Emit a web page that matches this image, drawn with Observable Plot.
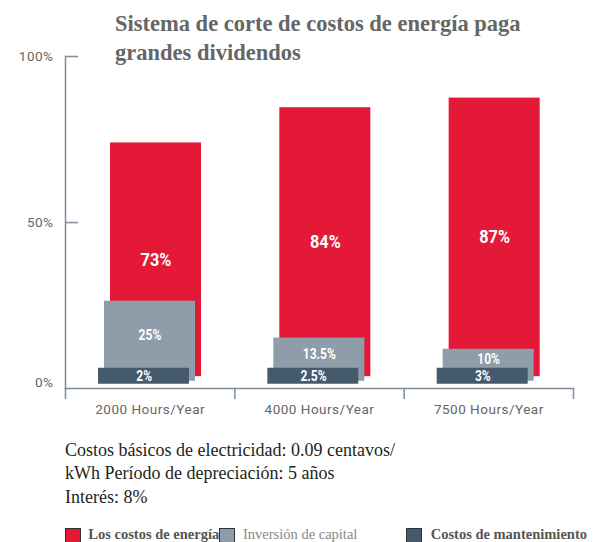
<!DOCTYPE html>
<html>
<head>
<meta charset="utf-8">
<script src="https://cdn.jsdelivr.net/npm/d3@7"></script>
<script src="https://cdn.jsdelivr.net/npm/@observablehq/plot@0.6"></script>
<style>
  html, body { margin: 0; padding: 0; background: #fff; overflow: hidden; }
  #wrap { position: relative; width: 599px; height: 542px; overflow: hidden; background: #fff; }
  #chart { position: absolute; left: 0; top: 0; }
  #chart svg [aria-label="x-axis tick label"] text, #chart svg [aria-label="y-axis tick label"] text { letter-spacing: 0.5px; }
  #title { position: absolute; left: 115px; top: 8.6px; font-family: "Liberation Serif", serif; font-weight: 700;
           font-size: 22.5px; line-height: 29px; color: #666; white-space: nowrap; }
  #caption { position: absolute; left: 65px; top: 439px; font-family: "Liberation Serif", serif; font-size: 18px;
             line-height: 23.3px; color: #231f20; white-space: nowrap; }
  .sw { position: absolute; top: 528px; width: 16px; height: 16px; box-sizing: border-box; border: 1px solid #333; }
  .lt { position: absolute; top: 525.5px; font-family: "Liberation Serif", serif; font-size: 14.5px; line-height: 16px; white-space: nowrap; }
</style>
</head>
<body>
<div id="wrap">
  <div id="chart"></div>
  <div id="title"></div>
  <div id="caption"></div>
  <div id="legend"></div>
</div>
<script>
// ---- data ----
const categories = ["2000 Hours/Year", "4000 Hours/Year", "7500 Hours/Year"];
const energia = [73, 84, 87];          // Los costos de energía (%)
const capital = [25, 13.5, 10];        // Inversión de capital (%)
const mantenimiento = [2, 2.5, 3];     // Costos de mantenimiento (%)
const yTicks = [0, 50, 100];
const seriesNames = ["Los costos de energía", "Inversión de capital", "Costos de mantenimiento"];
const titleLines = ["Sistema de corte de costos de energía paga", "grandes dividendos"];
const captionLines = ["Costos básicos de electricidad: 0.09 centavos/", "kWh Período de depreciación: 5 años", "Interés: 8%"];

// ---- styles ----
const RED = "#e31937", GRAY = "#8f9daa", DARK = "#465a6d", AXIS = "#7f8c99";
const labelFont = "Roboto, sans-serif";

const rows = categories.map((c, i) => ({cat: c, energia: energia[i], capital: capital[i], mant: mantenimiento[i]}));
const bw = (599 - 65 - 26) / categories.length;
const pct = d => d + "%";

const chart = Plot.plot({
  width: 599, height: 430,
  marginLeft: 65, marginRight: 26, marginTop: 56, marginBottom: 42,
  style: {fontFamily: "Roboto, sans-serif", fontSize: "13.5px", color: "#666", background: "transparent", overflow: "visible"},
  x: {type: "band", domain: categories, padding: 0, round: false, axis: null, label: null},
  y: {domain: [-3.7, 100], axis: null, label: null},
  marks: [
    // energy cost bars
    Plot.barY(rows, {x: "cat", y1: 0, y2: "energia", fill: RED, insetLeft: 45, insetRight: bw - 45 - 91}),
    // capital bars (shifted down a little, left)
    Plot.barY(rows, {x: "cat", y1: 0, y2: "capital", fill: GRAY, insetLeft: 39, insetRight: bw - 39 - 91, dy: 4.6}),
    // maintenance: fixed-height label band
    Plot.barY(rows, {x: "cat", y1: 0, y2: () => 5, fill: DARK, insetLeft: 33, insetRight: bw - 33 - 91, dy: 7.6}),
    // labels
    Plot.text(rows, {x: "cat", y: d => d.energia / 2, text: d => pct(d.energia), fill: "white", fontWeight: "bold",
                     fontSize: 19, fontFamily: labelFont, dx: 5.8}),
    Plot.text(rows, {x: "cat", y: d => d.capital / 2, text: d => pct(d.capital), fill: "white", fontWeight: "bold",
                     fontSize: 14, fontFamily: labelFont, dx: -0.2, dy: -1}),
    Plot.text(rows, {x: "cat", y: 0, text: d => pct(d.mant), fill: "white", fontWeight: "bold",
                     fontSize: 14, fontFamily: labelFont, dx: -6}),
    // axes lines
    Plot.frame({anchor: "left", stroke: AXIS, strokeWidth: 1.5}),
    Plot.frame({anchor: "bottom", stroke: AXIS, strokeWidth: 1.5}),
    // x boundary ticks
    Plot.axisX({tickSize: 11, dx: -bw / 2, fill: "none", stroke: AXIS, strokeWidth: 1.5, label: null}),
    Plot.axisX({ticks: [categories[categories.length - 1]], tickSize: 11, dx: bw / 2, fill: "none", stroke: AXIS, strokeWidth: 1.5, label: null}),
    Plot.axisX({tickSize: 0, tickPadding: 16, fill: "#666", label: null}),
    // y ticks
    Plot.axisY({ticks: [yTicks[2]], tickSize: 13, dx: 13, fill: "none", stroke: AXIS, strokeWidth: 1.5, label: null}),
    Plot.axisY({ticks: [yTicks[1]], tickSize: 13, dx: 13, dy: 6, fill: "none", stroke: AXIS, strokeWidth: 1.5, label: null}),
    Plot.axisY({ticks: [yTicks[2]], tickSize: 0, tickPadding: 12, tickFormat: pct, fill: "#666", label: null}),
    Plot.axisY({ticks: [yTicks[0], yTicks[1]], tickSize: 0, tickPadding: 12, dy: 6.5, tickFormat: pct, fill: "#666", label: null})
  ]
});
document.getElementById("chart").appendChild(chart);

// condensed look for the value labels inside the bars
chart.querySelectorAll('g[aria-label="text"] text').forEach(t => {
  const w = t.getComputedTextLength();
  t.setAttribute("textLength", (w * 0.86).toFixed(1));
  t.setAttribute("lengthAdjust", "spacingAndGlyphs");
});

document.getElementById("title").innerHTML = titleLines.join("<br>");
document.getElementById("caption").innerHTML = captionLines.join("<br>");

const legend = document.getElementById("legend");
const legendItems = [
  {name: seriesNames[0], color: RED, sw: 65, tx: 88.3, weight: 700, tc: "#555"},
  {name: seriesNames[1], color: GRAY, sw: 218.5, tx: 243, weight: 400, tc: "#888"},
  {name: seriesNames[2], color: DARK, sw: 406, tx: 430.7, weight: 700, tc: "#555"}
];
legendItems.forEach(it => {
  const t = document.createElement("span");
  t.className = "lt"; t.textContent = it.name;
  t.style.left = it.tx + "px"; t.style.fontWeight = it.weight; t.style.color = it.tc;
  legend.appendChild(t);
});
legendItems.forEach(it => {
  const s = document.createElement("div");
  s.className = "sw"; s.style.left = it.sw + "px"; s.style.background = it.color;
  legend.appendChild(s);
});
</script>
</body>
</html>
